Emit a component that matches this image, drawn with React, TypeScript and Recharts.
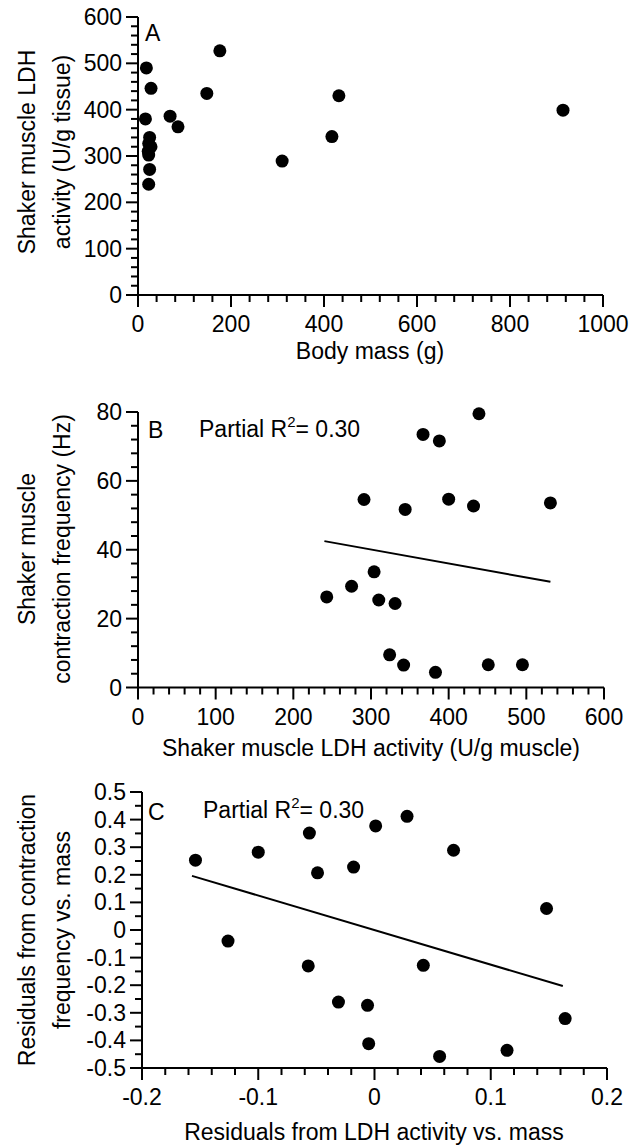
import React from "react";
import { ScatterChart, Scatter, XAxis, YAxis, ReferenceLine } from "recharts";

const FONT = "'Liberation Sans', Arial, Helvetica, sans-serif";
const FS = 23;

// Panel A: body mass vs shaker muscle LDH activity
const massA = [18, 28, 16, 25, 23, 28, 22, 23, 25, 23, 69, 86, 148, 176, 310, 417, 432, 914];
const ldhA = [490, 446, 380, 340, 327, 320, 310, 302, 271, 239, 386, 363, 435, 527, 289, 342, 430, 399];
const majorXA = [0, 200, 400, 600, 800, 1000];
const majorYA = [0, 100, 200, 300, 400, 500, 600];

// Panel B: LDH activity vs contraction frequency
const ldhB = [439, 367, 388, 291, 344, 400, 432, 531, 304, 275, 243, 310, 331, 324, 342, 383, 451, 495];
const freqB = [79.5, 73.5, 71.6, 54.6, 51.7, 54.7, 52.7, 53.6, 33.6, 29.4, 26.3, 25.4, 24.4, 9.5, 6.5, 4.4, 6.6, 6.6];
const fitXB = [240, 531];
const fitYB = [42.5, 30.7];
const majorXB = [0, 100, 200, 300, 400, 500, 600];
const majorYB = [0, 20, 40, 60, 80];

// Panel C: residuals
const residLdhC = [-0.154, -0.126, -0.1, -0.056, -0.057, -0.049, -0.031, -0.018, -0.006, -0.005, 0.001, 0.028, 0.042, 0.056, 0.068, 0.114, 0.148, 0.164];
const residFreqC = [0.253, -0.04, 0.282, 0.351, -0.13, 0.207, -0.261, 0.228, -0.273, -0.412, 0.377, 0.412, -0.128, -0.458, 0.289, -0.436, 0.078, -0.321];
const fitXC = [-0.157, 0.162];
const fitYC = [0.196, -0.203];
const majorXC = [-0.2, -0.1, 0, 0.1, 0.2];
const majorYC = [-0.5, -0.4, -0.3, -0.2, -0.1, 0, 0.1, 0.2, 0.3, 0.4, 0.5];

const pts = (xs: number[], ys: number[]) => xs.map((x, i) => ({ x, y: ys[i] }));

// major ticks plus n-1 minor ticks between each pair
function withMinor(majors: number[], n: number) {
  const out: number[] = [];
  for (let i = 0; i < majors.length - 1; i++) {
    const step = (majors[i + 1] - majors[i]) / n;
    for (let k = 0; k < n; k++) out.push(Math.round((majors[i] + k * step) * 10000) / 10000);
  }
  out.push(majors[majors.length - 1]);
  return out;
}

const fmtInt = (v: number) => String(v);
const fmtDec = (v: number) => (Math.abs(v) < 1e-9 ? "0" : v.toFixed(1));

function makeTick(orient: "x" | "y", majors: number[], fmt: (v: number) => string) {
  return (props: any) => {
    const { x, y, payload } = props;
    const v = payload.value;
    const major = majors.some((m) => Math.abs(m - v) < 1e-9);
    const len = major ? 12 : 7;
    if (orient === "x") {
      return (
        <g>
          <line x1={x} x2={x} y1={y} y2={y + len} stroke="#000" strokeWidth={2} />
          {major && (
            <text x={x} y={y + 37} textAnchor="middle" fontFamily={FONT} fontSize={FS} fill="#000">
              {fmt(v)}
            </text>
          )}
        </g>
      );
    }
    return (
      <g>
        <line x1={x} x2={x - len} y1={y} y2={y} stroke="#000" strokeWidth={2} />
        {major && (
          <text x={x - 16} y={y + 8} textAnchor="end" fontFamily={FONT} fontSize={FS} fill="#000">
            {fmt(v)}
          </text>
        )}
      </g>
    );
  };
}

const dot = (props: any) => <circle cx={props.cx} cy={props.cy} r={6.5} fill="#000" />;

const axisLine = { stroke: "#000", strokeWidth: 2 };

function YTitle({ lines, cy }: { lines: string[]; cy: number }) {
  const xs = [35, 70];
  return (
    <g>
      {lines.map((l, i) => (
        <text
          key={i}
          x={xs[i]}
          y={cy}
          transform={`rotate(-90 ${xs[i]} ${cy})`}
          textAnchor="middle"
          fontFamily={FONT}
          fontSize={FS}
          fill="#000"
        >
          {l}
        </text>
      ))}
    </g>
  );
}

function R2({ x, y }: { x: number; y: number }) {
  return (
    <text x={x} y={y} fontFamily={FONT} fontSize={FS} fill="#000">
      Partial R
      <tspan dy={-10} fontSize={15}>2</tspan>
      <tspan dy={10}>= 0.30</tspan>
    </text>
  );
}

export default function App() {
  return (
    <div style={{ position: "absolute", left: 0, top: 0, width: 639, height: 1145, background: "#fff" }}>
      <div style={{ position: "absolute", left: 0, top: 0 }}>
        <ScatterChart width={639} height={380} margin={{ top: 17, right: 36, left: 0, bottom: 0 }}>
          <XAxis
            type="number"
            dataKey="x"
            domain={[0, 1000]}
            ticks={withMinor(majorXA, 5)}
            interval={0}
            height={85}
            tickSize={0}
            tickMargin={0}
            tickLine={false}
            axisLine={axisLine}
            tick={makeTick("x", majorXA, fmtInt)}
          />
          <YAxis
            type="number"
            dataKey="y"
            domain={[0, 600]}
            ticks={withMinor(majorYA, 5)}
            interval={0}
            width={138}
            tickSize={0}
            tickMargin={0}
            tickLine={false}
            axisLine={axisLine}
            tick={makeTick("y", majorYA, fmtInt)}
          />
          <Scatter data={pts(massA, ldhA)} shape={dot} isAnimationActive={false} />
          <YTitle lines={["Shaker muscle LDH", "activity (U/g tissue)"]} cy={152} />
          <text x={145} y={41} fontFamily={FONT} fontSize={FS} fill="#000">A</text>
          <text x={370} y={359} textAnchor="middle" fontFamily={FONT} fontSize={FS} fill="#000">
            Body mass (g)
          </text>
        </ScatterChart>
      </div>

      <div style={{ position: "absolute", left: 0, top: 380 }}>
        <ScatterChart width={639} height={385} margin={{ top: 32, right: 35, left: 0, bottom: 0 }}>
          <XAxis
            type="number"
            dataKey="x"
            domain={[0, 600]}
            ticks={withMinor(majorXB, 5)}
            interval={0}
            height={77.5}
            tickSize={0}
            tickMargin={0}
            tickLine={false}
            axisLine={axisLine}
            tick={makeTick("x", majorXB, fmtInt)}
          />
          <YAxis
            type="number"
            dataKey="y"
            domain={[0, 80]}
            ticks={withMinor(majorYB, 5)}
            interval={0}
            width={138}
            tickSize={0}
            tickMargin={0}
            tickLine={false}
            axisLine={axisLine}
            tick={makeTick("y", majorYB, fmtInt)}
          />
          <ReferenceLine
            segment={[
              { x: fitXB[0], y: fitYB[0] },
              { x: fitXB[1], y: fitYB[1] },
            ]}
            stroke="#000"
            strokeWidth={2}
          />
          <Scatter data={pts(ldhB, freqB)} shape={dot} isAnimationActive={false} />
          <YTitle lines={["Shaker muscle", "contraction frequency (Hz)"]} cy={169} />
          <text x={148} y={58} fontFamily={FONT} fontSize={FS} fill="#000">B</text>
          <R2 x={199} y={57} />
          <text x={371} y={376} textAnchor="middle" fontFamily={FONT} fontSize={FS} fill="#000">
            Shaker muscle LDH activity (U/g muscle)
          </text>
        </ScatterChart>
      </div>

      <div style={{ position: "absolute", left: 0, top: 765 }}>
        <ScatterChart width={639} height={380} margin={{ top: 27, right: 32, left: 0, bottom: 0 }}>
          <XAxis
            type="number"
            dataKey="x"
            domain={[-0.2, 0.2]}
            ticks={withMinor(majorXC, 5)}
            interval={0}
            height={77}
            tickSize={0}
            tickMargin={0}
            tickLine={false}
            axisLine={axisLine}
            tick={makeTick("x", majorXC, fmtDec)}
          />
          <YAxis
            type="number"
            dataKey="y"
            domain={[-0.5, 0.5]}
            ticks={withMinor(majorYC, 2)}
            interval={0}
            width={142}
            tickSize={0}
            tickMargin={0}
            tickLine={false}
            axisLine={axisLine}
            tick={makeTick("y", majorYC, fmtDec)}
          />
          <ReferenceLine
            segment={[
              { x: fitXC[0], y: fitYC[0] },
              { x: fitXC[1], y: fitYC[1] },
            ]}
            stroke="#000"
            strokeWidth={2}
          />
          <Scatter data={pts(residLdhC, residFreqC)} shape={dot} isAnimationActive={false} />
          <YTitle lines={["Residuals from contraction", "frequency vs. mass"]} cy={165} />
          <text x={148} y={55} fontFamily={FONT} fontSize={FS} fill="#000">C</text>
          <R2 x={203} y={53} />
          <text x={374} y={375} textAnchor="middle" fontFamily={FONT} fontSize={FS} fill="#000">
            Residuals from LDH activity vs. mass
          </text>
        </ScatterChart>
      </div>
    </div>
  );
}
